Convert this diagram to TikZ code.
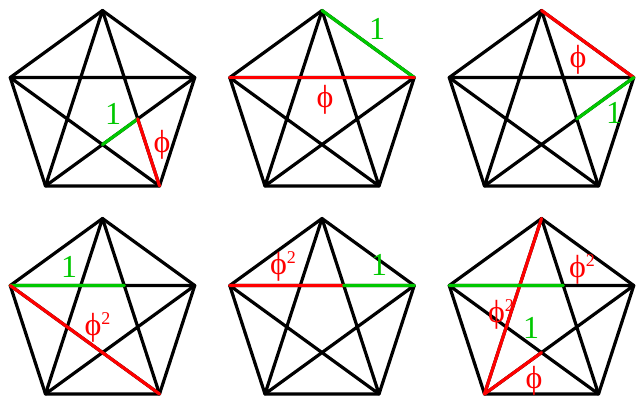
\documentclass[tikz,border=0pt]{standalone}
\usepackage{fontspec}
\setmainfont{Liberation Serif}
\definecolor{phired}{RGB}{255,0,0}
\definecolor{onegreen}{RGB}{0,200,0}
\tikzset{
  edge/.style={line width=3.2pt, line cap=round, line join=round, black},
  redseg/.style={line width=3.2pt, line cap=round, phired},
  greenseg/.style={line width=3.2pt, line cap=round, onegreen},
  lab/.style={inner sep=0pt, font=\fontsize{32}{36}\selectfont},
  redlab/.style={lab, text=phired},
  greenlab/.style={lab, text=onegreen},
}
\newcommand\sqtwo{\raisebox{11pt}{\fontsize{18}{18}\selectfont 2}}
\begin{document}
\begin{tikzpicture}[x=1pt,y=-1pt]
\useasboundingbox (0,0) rectangle (640,400);
\foreach \n/\cx/\cy in {p/102.5/107.5, q/322/107.5, r/541.5/107.5, s/102.5/315.5, t/322/315.5, u/541.5/315.5}{
  \coordinate (\n A) at (\cx,\cy-97);
  \coordinate (\n B) at ({\cx+97*cos(18)},{\cy-97*sin(18)});
  \coordinate (\n C) at ({\cx+97*sin(36)},{\cy+97*cos(36)});
  \coordinate (\n D) at ({\cx-97*sin(36)},{\cy+97*cos(36)});
  \coordinate (\n E) at ({\cx-97*cos(18)},{\cy-97*sin(18)});
  \draw[edge] (\n A)--(\n B)--(\n C)--(\n D)--(\n E)--cycle;
  \draw[edge] (\n A)--(\n C) (\n A)--(\n D) (\n B)--(\n D) (\n B)--(\n E) (\n C)--(\n E);
}
% intersections
\coordinate (pX) at (intersection of pB--pD and pC--pE);
\coordinate (pY) at (intersection of pB--pD and pA--pC);
\coordinate (rY) at (intersection of rB--rD and rA--rC);
\coordinate (sZ) at (intersection of sE--sB and sA--sC);
\coordinate (tZ) at (intersection of tE--tB and tA--tC);
\coordinate (uX) at (intersection of uB--uD and uC--uE);
\coordinate (uZ) at (intersection of uE--uB and uA--uC);
% panel 1
\draw[greenseg] (pX) -- (pY);
\draw[redseg] (pY) -- (pC);
\node[greenlab] (l1) at (113,114) {1};
\node[redlab] (f1) at (162,145) {ϕ};
% panel 2
\draw[greenseg] (qA) -- (qB);
\draw[redseg] (qE) -- (qB);
\node[greenlab] (l2) at (377,29) {1};
\node[redlab] (f2) at (325,100) {ϕ};
% panel 3
\draw[redseg] (rA) -- (rB);
\draw[greenseg] (rB) -- (rY);
\node[redlab] (f3) at (578,60) {ϕ};
\node[greenlab] (l3) at (614,113) {1};
% panel 4
\draw[greenseg] (sE) -- (sZ);
\draw[redseg] (sE) -- (sC);
\node[greenlab] (l4) at (69,267) {1};
\node[redlab] (f4) at (97.5,327) {ϕ\sqtwo};
% panel 5
\draw[redseg] (tE) -- (tZ);
\draw[greenseg] (tZ) -- (tB);
\node[redlab] (f5) at (283,266) {ϕ\sqtwo};
\node[greenlab] (l5) at (379,265) {1};
% panel 6
\draw[redseg] (uA) -- (uD);
\draw[redseg] (uD) -- (uX);
\draw[greenseg] (uE) -- (uZ);
\node[redlab] (f6a) at (582,269) {ϕ\sqtwo};
\node[redlab] (f6b) at (501,314) {ϕ\sqtwo};
\node[greenlab] (l6) at (531,328) {1};
\node[redlab] (f6c) at (534,381) {ϕ};
\end{tikzpicture}
\end{document}
